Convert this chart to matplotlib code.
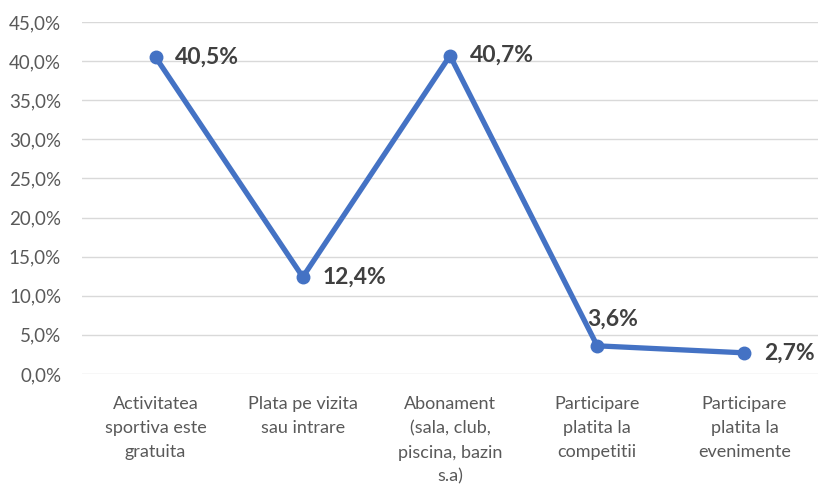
import matplotlib
matplotlib.use("Agg")
import matplotlib.pyplot as plt
from matplotlib.ticker import FuncFormatter, MultipleLocator

categories = ["Activitatea\nsportiva este\ngratuita", "Plata pe vizita\nsau intrare",
              "Abonament\n(sala, club,\npiscina, bazin\ns.a)", "Participare\nplatita la\ncompetitii",
              "Participare\nplatita la\nevenimente"]
values = [40.5, 12.4, 40.7, 3.6, 2.7]
labels = ["40,5%", "12,4%", "40,7%", "3,6%", "2,7%"]

plt.rcParams['font.family'] = ['Lato', 'DejaVu Sans']

fig = plt.figure(figsize=(8.2, 4.86), dpi=100)
ax = fig.add_axes([0.1, 0.2305, 0.8976, 0.7242])
x = list(range(len(values)))
color = "#4472C4"
ax.plot(x, values, color=color, lw=3.8, marker='o', ms=9, solid_capstyle='round', zorder=3)
for i, (v, l) in enumerate(zip(values, labels)):
    if i == 3:
        ax.annotate(l, (i, v), xytext=(-7, 19), textcoords='offset points', ha='left', va='center',
                    fontsize=16.5, fontweight='bold', color='#404040')
    else:
        ax.annotate(l, (i, v), xytext=(14, 0), textcoords='offset points', ha='left', va='center',
                    fontsize=16.5, fontweight='bold', color='#404040')

ax.set_xlim(-0.5, 4.5)
ax.set_ylim(0, 45)
ax.yaxis.set_major_locator(MultipleLocator(5))
ax.yaxis.set_major_formatter(FuncFormatter(lambda v, p: f"{v:.1f}%".replace('.', ',')))
ax.set_xticks(x)
ax.set_xticklabels(categories, fontsize=13, color='#595959', linespacing=1.62)
ax.tick_params(axis='y', labelsize=13.5, labelcolor='#595959', length=0, pad=15)
ax.tick_params(axis='x', length=0, pad=16)
ax.grid(axis='y', color='#D9D9D9', lw=1)
ax.set_axisbelow(True)
for s in ax.spines.values():
    s.set_visible(False)
fig.savefig("out.png", dpi=100)
